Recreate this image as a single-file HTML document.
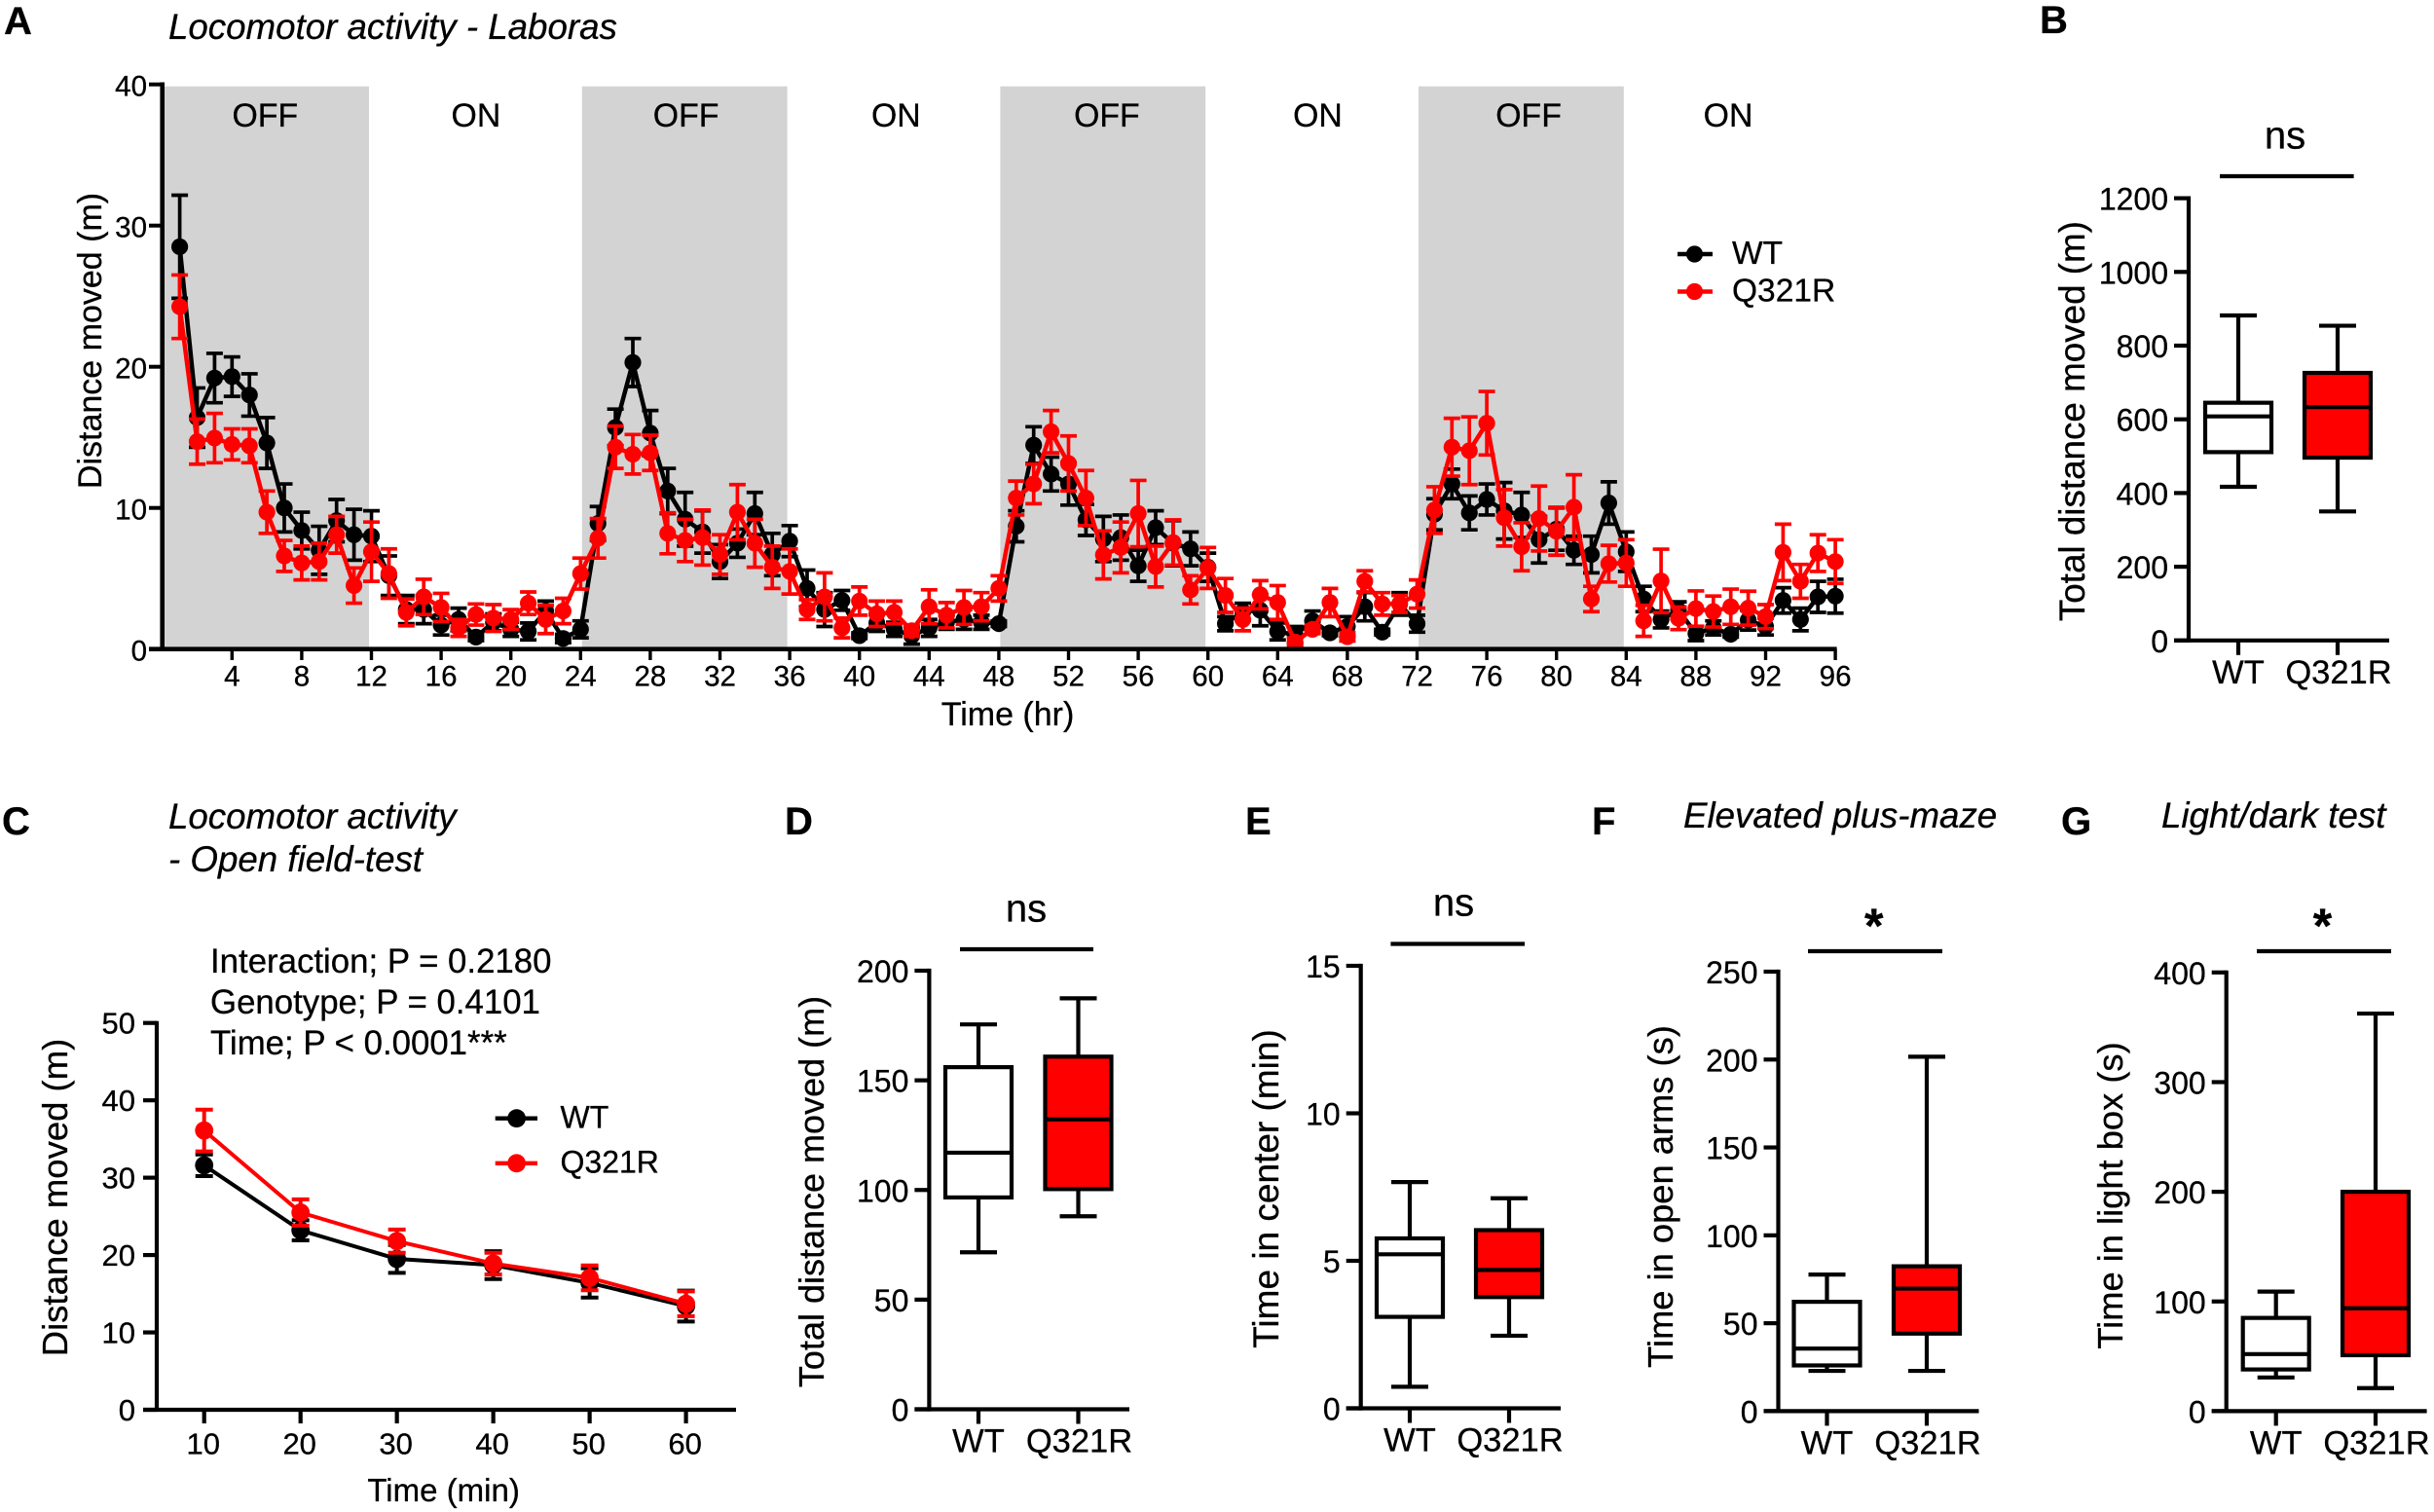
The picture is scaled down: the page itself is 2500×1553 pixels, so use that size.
<!DOCTYPE html>
<html lang="en">
<head>
<meta charset="utf-8">
<title>Locomotor and anxiety behaviour, WT vs Q321R</title>
<style>
html,body{margin:0;padding:0;background:#fff;}
svg{display:block;}
text{font-family:"Liberation Sans",Arial,sans-serif;fill:#000;stroke:#000;stroke-width:0.3px;}
.panel-letter{font-size:40px;font-weight:700;}
.title{font-size:36.7px;font-style:italic;}
.stat{font-size:34.8px;}
</style>
</head>
<body>
<svg id="figure" xmlns="http://www.w3.org/2000/svg" width="2500" height="1553" viewBox="0 0 2500 1553">
<rect x="0" y="0" width="2500" height="1553" fill="#fff"/>
<g id="bands"></g>
<text class="panel-letter" x="4" y="35">A</text>
<text class="panel-letter" x="2095" y="34">B</text>
<text class="panel-letter" x="2" y="857">C</text>
<text class="panel-letter" x="806" y="857">D</text>
<text class="panel-letter" x="1279" y="857">E</text>
<text class="panel-letter" x="1635" y="857">F</text>
<text class="panel-letter" x="2117" y="857">G</text>
<text class="title" x="173" y="40">Locomotor activity - Laboras</text>
<text class="title" x="173" y="851">Locomotor activity</text>
<text class="title" x="173" y="895">- Open field-test</text>
<text class="title" x="1729" y="850">Elevated plus-maze</text>
<text class="title" x="2220" y="850">Light/dark test</text>
<text class="stat" x="216" y="999">Interaction; P = 0.2180</text>
<text class="stat" x="216" y="1041">Genotype; P = 0.4101</text>
<text class="stat" x="216" y="1083">Time; P &lt; 0.0001***</text>
</svg>
<script>
// ---- Panel A data ----
const aHours = [1,2,3,4,5,6,7,8,9,10,11,12,13,14,15,16,17,18,19,20,21,22,23,24,
  25,26,27,28,29,30,31,32,33,34,35,36,37,38,39,40,41,42,43,44,45,46,47,48,
  49,50,51,52,53,54,55,56,57,58,59,60,61,62,63,64,65,66,67,68,69,70,71,72,
  73,74,75,76,77,78,79,80,81,82,83,84,85,86,87,88,89,90,91,92,93,94,95,96];
const aWtMean = [28.5,16.4,19.2,19.3,18.0,14.6,10.0,8.4,7.0,9.1,8.1,8.0,
  5.2,2.8,2.8,1.7,2.1,0.85,1.9,1.4,1.25,2.7,0.75,1.4,
  8.9,15.7,20.3,15.3,11.2,9.2,8.3,6.2,7.5,9.6,6.7,7.65,
  4.3,2.8,3.45,0.95,1.85,1.4,0.95,1.5,1.9,2.1,1.9,1.8,
  8.7,14.45,12.4,11.7,9.15,7.8,7.9,5.9,8.6,7.5,7.1,5.8,
  1.8,2.65,2.75,1.25,1.0,2.0,1.15,1.6,3.0,1.2,3.2,1.8,
  9.55,11.7,9.65,10.6,9.8,9.5,7.75,8.5,7.0,6.7,10.35,6.9,
  3.55,2.1,2.75,1.1,1.5,1.05,2.05,1.6,3.45,2.1,3.7,3.75];
const aWtSem = [3.65,2.1,1.75,1.4,1.5,1.8,1.7,1.3,1.7,1.5,1.8,1.8,
  1.4,1.0,1.0,0.7,0.8,0.25,0.6,0.5,0.6,0.7,0.3,0.6,
  1.2,1.3,1.7,1.6,1.6,1.9,1.5,1.2,1.0,1.5,1.5,1.1,
  1.3,1.2,0.7,0.2,0.6,0.5,0.6,0.6,0.5,0.7,0.5,0.2,
  1.1,1.3,1.2,1.5,1.1,1.6,1.6,1.1,1.2,1.6,1.2,1.0,
  0.5,0.6,1.1,0.6,0.6,0.7,0.2,0.7,1.0,0.2,0.8,0.6,
  1.1,1.05,1.2,1.1,2.0,1.6,1.65,1.5,1.0,1.3,1.5,1.4,
  0.9,0.6,0.6,0.5,0.5,0.2,0.7,0.6,0.9,0.8,1.1,1.2];
const aQ321rMean = [24.25,14.7,14.95,14.5,14.4,9.7,6.6,6.1,6.2,8.1,4.5,6.9,
  5.35,2.6,3.7,2.95,1.5,2.45,2.2,2.1,3.25,2.1,2.7,5.35,
  7.85,14.3,13.8,13.9,8.2,7.7,7.9,6.7,9.7,7.5,5.8,5.5,
  2.8,3.7,1.5,3.4,2.5,2.6,1.3,3.0,2.4,2.95,3.0,4.3,
  10.7,11.7,15.4,13.15,10.7,6.67,7.2,9.6,5.85,7.55,4.2,5.75,
  3.8,2.1,3.85,3.3,0.5,1.4,3.3,0.87,4.8,3.2,3.2,3.9,
  9.85,14.3,14.05,16.0,9.3,7.25,9.25,8.35,10.05,3.55,6.05,6.1,
  2.0,4.83,2.18,2.87,2.66,3.0,2.9,2.3,6.85,4.8,6.8,6.2];
const aQ321rSem = [2.25,1.6,1.75,1.1,1.2,1.5,1.1,1.2,1.3,1.3,1.25,2.1,
  1.75,0.95,1.25,1.0,0.6,0.75,0.95,0.7,0.8,1.0,0.9,1.1,
  1.4,1.5,1.4,1.25,1.45,1.5,1.95,1.4,1.95,1.7,1.5,1.6,
  0.7,1.7,0.7,1.0,0.9,0.8,0.4,1.2,0.9,1.2,1.0,0.9,
  1.2,1.4,1.5,1.95,1.95,1.7,1.8,2.35,1.45,1.6,1.0,1.45,
  1.2,0.8,1.0,1.2,0.3,0.3,1.0,0.3,0.75,0.8,0.6,1.0,
  1.65,2.05,2.4,2.25,2.0,1.7,2.3,1.7,2.3,0.9,1.3,1.65,
  1.1,2.25,0.8,1.25,1.1,1.25,1.2,0.85,2.0,1.2,1.3,1.55];
const aYTicks = [0,10,20,30,40];
const aXTicks = [4,8,12,16,20,24,28,32,36,40,44,48,52,56,60,64,68,72,76,80,84,88,92,96];
const aBandStartHours = [0,24,48,72];
const aBandEndHours = [12,36,60,84];
const aPhaseNames = ['OFF','ON','OFF','ON','OFF','ON','OFF','ON'];
const aPhaseCenterHours = [5.9,18,30.05,42.1,54.2,66.3,78.4,89.85];

// ---- Panel C data ----
const cMinutes = [10,20,30,40,50,60];
const cWtMean = [31.6,23.2,19.5,18.7,16.4,13.4];
const cWtSem = [1.4,1.3,1.8,1.8,1.9,2.0];
const cQ321rMean = [36.1,25.5,21.8,18.9,17.05,13.7];
const cQ321rSem = [2.7,1.7,1.5,1.4,1.6,1.6];
const cYTicks = [0,10,20,30,40,50];

// ---- Box-plot data: [low whisker, Q1, median, Q3, high whisker] ----
const boxCategories = ['WT','Q321R'];
const bWt = [417,511,608,645,882];
const bQ321r = [350,496,633,726,854];
const bYTicks = [0,200,400,600,800,1000,1200];
const dWt = [71.6,96.6,117,156,175.5];
const dQ321r = [88,100.4,132.2,160.8,187.4];
const dYTicks = [0,50,100,150,200];
const eWt = [0.73,3.1,5.22,5.76,7.67];
const eQ321r = [2.46,3.77,4.69,6.04,7.12];
const eYTicks = [0,5,10,15];
const fWt = [22.9,26,35.6,62.2,77.7];
const fQ321r = [22.9,44.1,69.7,82.4,201.6];
const fYTicks = [0,50,100,150,200,250];
const gWt = [30.7,38,52,85,109];
const gQ321r = [21,51,93.8,200,362.5];
const gYTicks = [0,100,200,300,400];

const NS = 'http://www.w3.org/2000/svg';
const figure = document.getElementById('figure');

function make(tag, attrs, parent) {
  const el = document.createElementNS(NS, tag);
  for (const k in attrs) el.setAttribute(k, attrs[k]);
  parent.appendChild(el);
  return el;
}

function addLine(parent, x1, y1, x2, y2, color, width, name) {
  const el = make('line', {x1: x1, y1: y1, x2: x2, y2: y2, stroke: color, 'stroke-width': width}, parent);
  
  
  return el;
}

function addText(parent, x, y, str, size, anchor, name) {
  const el = make('text', {x: x, y: y, 'font-size': size, 'text-anchor': anchor}, parent);
  el.textContent = str;
  
  
  return el;
}

function addRotatedLabel(parent, baselineX, centerY, str, size, name) {
  const el = make('text', {x: 0, y: 0, 'font-size': size, 'text-anchor': 'middle',
    transform: 'translate(' + baselineX + ',' + centerY + ') rotate(-90)', 'xml:space': 'preserve'}, parent);
  el.textContent = str;
  
  
  return el;
}

function drawSeries(parent, name, color, xs, means, sems, xScale, yScale, opts) {
  const g = make('g', {}, parent);
  
  
  xs.forEach(function (xv, i) {
    const px = xScale(xv);
    addLine(g, px, yScale(means[i] - sems[i]), px, yScale(means[i] + sems[i]), color, opts.errWidth, name + '-error-bar');
    addLine(g, px - opts.cap, yScale(means[i] + sems[i]), px + opts.cap, yScale(means[i] + sems[i]), color, opts.errWidth, name + '-error-cap-top');
    addLine(g, px - opts.cap, yScale(means[i] - sems[i]), px + opts.cap, yScale(means[i] - sems[i]), color, opts.errWidth, name + '-error-cap-bottom');
  });
  const pts = xs.map(function (xv, i) { return xScale(xv) + ',' + yScale(means[i]); }).join(' ');
  const poly = make('polyline', {points: pts, fill: 'none', stroke: color, 'stroke-width': opts.lineWidth, 'stroke-linejoin': 'round'}, g);
  
  
  xs.forEach(function (xv, i) {
    const dot = make('circle', {cx: xScale(xv), cy: yScale(means[i]), r: opts.r, fill: color}, g);
    
    
  });
}

function drawLegendEntry(parent, x1, x2, cx, textX, cy, r, color, label, size) {
  const g = make('g', {}, parent);
  
  
  addLine(g, x1, cy, x2, cy, color, 4.4, 'legend-line');
  const dot = make('circle', {cx: cx, cy: cy, r: r, fill: color}, g);
  
  
  addText(g, textX, cy + size * 0.3, label, size, 'start', 'legend-label');
}

function drawBoxPlot(cfg) {
  const g = make('g', {}, figure);
  
  
  const yScale = function (v) { return cfg.y0 - (cfg.y0 - cfg.yTop) * v / cfg.yTicks[cfg.yTicks.length - 1]; };
  const lw = 4.2;
  // axes
  addLine(g, cfg.axisX, cfg.yTop - lw / 2, cfg.axisX, cfg.y0 + lw / 2, '#000', lw, 'y-axis');
  addLine(g, cfg.axisX - 15, cfg.y0, cfg.axisEnd, cfg.y0, '#000', lw, 'x-axis');
  cfg.yTicks.forEach(function (v) {
    addLine(g, cfg.axisX - 15, yScale(v), cfg.axisX, yScale(v), '#000', lw, 'y-tick');
    addText(g, cfg.axisX - 21, yScale(v) + 12, String(v), 32, 'end', 'y-tick-label');
  });
  // boxes
  [cfg.wt, cfg.mut].forEach(function (vals, i) {
    const cx = cfg.centers[i];
    const fill = i === 0 ? '#fff' : '#ff0000';
    const catName = boxCategories[i].toLowerCase();
    addLine(g, cx, yScale(vals[4]), cx, yScale(vals[0]), '#000', lw, catName + '-whisker');
    addLine(g, cx - 19, yScale(vals[4]), cx + 19, yScale(vals[4]), '#000', lw, catName + '-whisker-cap-high');
    addLine(g, cx - 19, yScale(vals[0]), cx + 19, yScale(vals[0]), '#000', lw, catName + '-whisker-cap-low');
    const box = make('rect', {x: cx - 34, y: yScale(vals[3]), width: 68, height: yScale(vals[1]) - yScale(vals[3]),
      fill: fill, stroke: '#000', 'stroke-width': lw}, g);
    
    
    addLine(g, cx - 34, yScale(vals[2]), cx + 34, yScale(vals[2]), '#000', lw, catName + '-median');
    addLine(g, cx, cfg.y0, cx, cfg.y0 + 15, '#000', lw, 'x-tick');
    addText(g, cx + (i === 0 ? 0 : 1), cfg.y0 + 44, boxCategories[i], 34.5, 'middle', 'x-tick-label');
  });
  // significance
  addLine(g, cfg.sigX1, cfg.sigY, cfg.sigX2, cfg.sigY, '#000', lw, 'significance-bar');
  if (cfg.sig === 'ns') {
    addText(g, cfg.sigTextX, cfg.sigTextY, 'ns', 40, 'middle', 'significance-label');
  } else {
    addText(g, cfg.sigTextX, cfg.sigTextY, '*', 50, 'middle', 'significance-label').setAttribute('font-weight', '700');
  }
  addRotatedLabel(g, cfg.labelX, cfg.labelY, cfg.label, cfg.labelSize, 'y-axis-title');
}

// ---- Panel A ----
const ax = function (h) { return 166.7 + 17.9 * h; };
const ay = function (v) { return 666.7 - 14.5 * v; };
const bandsLayer = document.getElementById('bands');
aBandStartHours.forEach(function (start, i) {
  const x0 = ax(start) + 1.5;
  const x1 = ax(aBandEndHours[i]) - 2.5;
  const band = make('rect', {x: x0, y: 88.7, width: x1 - x0, height: 576.3, fill: '#d3d3d3'}, bandsLayer);
  
  
});
const panelA = make('g', {}, figure);


aPhaseNames.forEach(function (label, i) {
  addText(panelA, ax(aPhaseCenterHours[i]), 130, label, 33.8, 'middle', 'light-phase-label');
});
drawSeries(panelA, 'wt', '#000', aHours, aWtMean, aWtSem, ax, ay, {r: 8.6, lineWidth: 4.5, errWidth: 3.7, cap: 8.5});
drawSeries(panelA, 'q321r', '#ff0000', aHours, aQ321rMean, aQ321rSem, ax, ay, {r: 8.6, lineWidth: 4.5, errWidth: 3.7, cap: 8.5});
addLine(panelA, ax(0), 84.5, ax(0), 669, '#000', 4.6, 'y-axis');
addLine(panelA, 153, ay(0), ax(96) + 1.5, ay(0), '#000', 4.6, 'x-axis');
aYTicks.forEach(function (v) {
  addLine(panelA, 153, ay(v), ax(0), ay(v), '#000', 4, 'y-tick');
  addText(panelA, 151, ay(v) + 12, String(v), 29.5, 'end', 'y-tick-label');
});
aXTicks.forEach(function (h) {
  addLine(panelA, ax(h), ay(0), ax(h), 678, '#000', 3.4, 'x-tick');
  addText(panelA, ax(h), 704.5, String(h), 29.5, 'middle', 'x-tick-label');
});
addRotatedLabel(panelA, 104, 350, 'Distance moved (m)', 34, 'y-axis-title');
addText(panelA, 1035, 745, 'Time (hr)', 34, 'middle', 'x-axis-title');
drawLegendEntry(panelA, 1723, 1759, 1740.5, 1779, 261, 8.6, '#000', 'WT', 33.5);
drawLegendEntry(panelA, 1723, 1759, 1740.5, 1779, 299.5, 8.6, '#ff0000', 'Q321R', 33.5);

// ---- Panel C ----
const cx = function (t) { return 209.7 + (t - 10) * 9.898; };
const cy = function (v) { return 1448 - 7.946 * v; };
const panelC = make('g', {}, figure);


drawSeries(panelC, 'wt', '#000', cMinutes, cWtMean, cWtSem, cx, cy, {r: 9.4, lineWidth: 4, errWidth: 4, cap: 9});
drawSeries(panelC, 'q321r', '#ff0000', cMinutes, cQ321rMean, cQ321rSem, cx, cy, {r: 9.4, lineWidth: 4, errWidth: 4, cap: 9});
addLine(panelC, 161, cy(50) - 2, 161, cy(0) + 2, '#000', 4.2, 'y-axis');
addLine(panelC, 147, cy(0), 756, cy(0), '#000', 4.2, 'x-axis');
cYTicks.forEach(function (v) {
  addLine(panelC, 147, cy(v), 161, cy(v), '#000', 4.2, 'y-tick');
  addText(panelC, 139, cy(v) + 11, String(v), 31, 'end', 'y-tick-label');
});
cMinutes.forEach(function (t) {
  addLine(panelC, cx(t), cy(0), cx(t), 1462, '#000', 4.2, 'x-tick');
  addText(panelC, cx(t) - 1, 1493.5, String(t), 31, 'middle', 'x-tick-label');
});
addRotatedLabel(panelC, 69, 1230, 'Distance moved (m)', 36.5, 'y-axis-title');
addText(panelC, 455.6, 1542, 'Time (min)', 33, 'middle', 'x-axis-title');
drawLegendEntry(panelC, 508.7, 552, 530.6, 575.5, 1148.7, 9.4, '#000', 'WT', 32);
drawLegendEntry(panelC, 508.7, 552, 530.6, 575.5, 1194.8, 9.4, '#ff0000', 'Q321R', 32);

// ---- Box plots ----
drawBoxPlot({name: 'panel-b-chart', axisX: 2248, axisEnd: 2454, y0: 657.8, yTop: 203.6, yTicks: bYTicks,
  centers: [2299, 2401], wt: bWt, mut: bQ321r, sig: 'ns', sigX1: 2280, sigX2: 2417.6, sigY: 181,
  sigTextX: 2347, sigTextY: 152.7, labelX: 2141, labelY: 432.6, labelSize: 36.8, label: 'Total distance moved (m)'});
drawBoxPlot({name: 'panel-d-chart', axisX: 954.4, axisEnd: 1160, y0: 1447.5, yTop: 997, yTicks: dYTicks,
  centers: [1005, 1107.5], wt: dWt, mut: dQ321r, sig: 'ns', sigX1: 986, sigX2: 1123, sigY: 975,
  sigTextX: 1054, sigTextY: 946.5, labelX: 846, labelY: 1224, labelSize: 36, label: 'Total distance moved (m)'});
drawBoxPlot({name: 'panel-e-chart', axisX: 1397.7, axisEnd: 1603, y0: 1446.5, yTop: 992, yTicks: eYTicks,
  centers: [1448, 1550], wt: eWt, mut: eQ321r, sig: 'ns', sigX1: 1428.4, sigX2: 1566, sigY: 969.5,
  sigTextX: 1493, sigTextY: 940.7, labelX: 1313, labelY: 1221, labelSize: 37, label: 'Time in center  (min)'});
drawBoxPlot({name: 'panel-f-chart', axisX: 1826.5, axisEnd: 2032.5, y0: 1449.4, yTop: 998, yTicks: fYTicks,
  centers: [1876.5, 1979], wt: fWt, mut: fQ321r, sig: '*', sigX1: 1857, sigX2: 1995, sigY: 977,
  sigTextX: 1924.7, sigTextY: 968, labelX: 1718, labelY: 1229, labelSize: 36.3, label: 'Time in open arms (s)'});
drawBoxPlot({name: 'panel-g-chart', axisX: 2286.7, axisEnd: 2492.6, y0: 1449.4, yTop: 998.8, yTicks: gYTicks,
  centers: [2337.7, 2440], wt: gWt, mut: gQ321r, sig: '*', sigX1: 2318, sigX2: 2456, sigY: 977,
  sigTextX: 2385.5, sigTextY: 968, labelX: 2180, labelY: 1228, labelSize: 36.3, label: 'Time in light box (s)'});
</script>
</body>
</html>
